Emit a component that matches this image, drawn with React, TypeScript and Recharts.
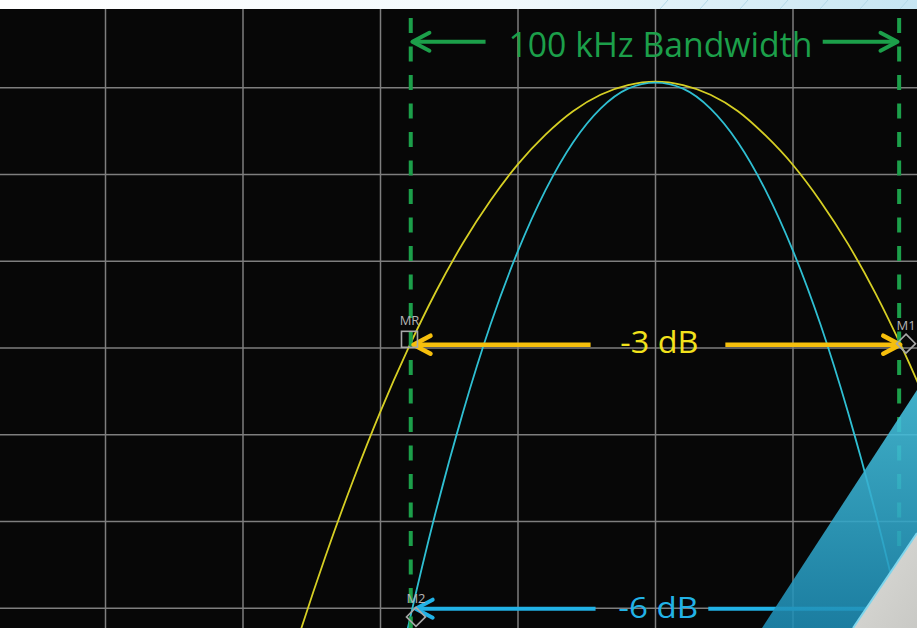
import React from 'react';
import { LineChart, Line, XAxis, YAxis, CartesianGrid, ReferenceLine, ReferenceDot } from 'recharts';

// offset from centre frequency, kHz
const freqs = [-70, -65, -60, -55, -50, -45, -40, -35, -30, -25, -20, -15, -10, -5, 0, 5, 10, 15, 20, 25, 30, 35, 40, 45, 50, 55, 60, 65, 70];
// wide filter trace (yellow), dB
const wideTrace = [-8.38, -7.35, -6.4, -5.53, -4.73, -4.01, -3.36, -2.79, -2.3, -1.88, -1.54, -1.27, -1.08, -0.97, -0.93, -0.97, -1.08, -1.27, -1.55, -1.89, -2.31, -2.8, -3.37, -4.02, -4.74, -5.54, -6.41, -7.36, -8.39];
// narrow filter trace (cyan), dB
const narrowTrace = [-16.1, -14.0, -12.1, -10.3, -8.69, -7.22, -5.9, -4.74, -3.73, -2.88, -2.18, -1.63, -1.24, -1.01, -0.94, -1.01, -1.24, -1.63, -2.18, -2.88, -3.73, -4.74, -5.9, -7.22, -8.69, -10.3, -12.1, -14.0, -16.1];

const xTicks = [-125, -100, -75, -50, -25, 0, 25, 50, 75];
const yTicks = [-8, -7, -6, -5, -4, -3, -2, -1, 0];

const bandEdges = [-44.5, 44.3];

// markers: name, freq, level, box or diamond
const markers = [
  { name: 'MR', f: -44.73, db: -3.9, kind: 'box' },
  { name: 'M1', f: 45.55, db: -3.95, kind: 'diamond' },
  { name: 'M2', f: -43.55, db: -7.1, kind: 'diamond' },
];

const data = freqs.map((f, i) => ({ f, wide: wideTrace[i], narrow: narrowTrace[i] }));

const GREEN = '#1c9f4a';
const AMBER = '#f6bf0c';
const SKY = '#22b2e6';
const FONT = '"Open Sans", "Noto Sans", sans-serif';

// line with an open arrow head at the first point
const arrow = (color: string, w: number) => (p: any) => {
  const { x1, y1, x2 } = p;
  const dir = x1 < x2 ? -1 : 1;
  const L = 17;
  const H = 9;
  return (
    <g>
      <line x1={x1 - dir * 2} y1={y1} x2={x2} y2={y1} stroke={color} strokeWidth={w} />
      <polyline
        points={`${x1 - dir * L},${y1 - H} ${x1},${y1} ${x1 - dir * L},${y1 + H}`}
        fill="none"
        stroke={color}
        strokeWidth={w}
        strokeLinecap="round"
        strokeLinejoin="round"
      />
    </g>
  );
};

const plain = (color: string, w: number) => (p: any) => (
  <line x1={p.x1} y1={p.y1} x2={p.x2} y2={p.y2} stroke={color} strokeWidth={w} />
);

const label = (text: string, color: string, size: number, len: number) => (p: any) => (
  <text
    x={p.cx}
    y={p.cy}
    textAnchor="middle"
    fill={color}
    fontSize={size}
    fontFamily={FONT}
    textLength={len}
    lengthAdjust="spacingAndGlyphs"
  >
    {text}
  </text>
);

const markerShape = (name: string, kind: string) => (p: any) => {
  const { cx, cy } = p;
  return (
    <g>
      {kind === 'box' ? (
        <rect x={cx - 8} y={cy - 8} width={16} height={16} fill="none" stroke="#a8a8a8" strokeWidth={1.6} />
      ) : (
        <polygon
          points={`${cx},${cy - 9.5} ${cx + 9.5},${cy} ${cx},${cy + 9.5} ${cx - 9.5},${cy}`}
          fill="none"
          stroke="#a8a8a8"
          strokeWidth={1.6}
        />
      )}
      <text x={cx} y={cy - 14} textAnchor="middle" fill="#b4b4b4" fontSize={13} fontFamily={FONT}>
        {name}
      </text>
    </g>
  );
};

export default function App() {
  return (
    <div style={{ position: 'fixed', left: 0, top: 0, width: 917, height: 628, overflow: 'hidden', background: '#070707' }}>
      <div style={{ position: 'absolute', left: -32.5, top: 1.3 }}>
        <LineChart width={1100} height={694} data={data} margin={{ top: 0, right: 0, bottom: 0, left: 0 }}>
          <CartesianGrid stroke="#7e7e7e" strokeWidth={1.5} />
          <XAxis type="number" dataKey="f" domain={[-125, 75]} ticks={xTicks} hide allowDataOverflow />
          <YAxis type="number" domain={[-8, 0]} ticks={yTicks} hide allowDataOverflow />

          <Line dataKey="wide" type="monotone" stroke="#d6cf24" strokeWidth={1.8} dot={false} isAnimationActive={false} />
          <Line dataKey="narrow" type="monotone" stroke="#2fbfd2" strokeWidth={1.8} dot={false} isAnimationActive={false} />

          {bandEdges.map((x) => (
            <ReferenceLine key={x} x={x} stroke={GREEN} strokeWidth={4} strokeDasharray="15 13.5" strokeDashoffset={22} />
          ))}

          {/* bandwidth annotation */}
          <ReferenceLine segment={[{ x: -44.2, y: -0.47 }, { x: -30.9, y: -0.47 }]} shape={arrow(GREEN, 4)} />
          <ReferenceLine segment={[{ x: 44.0, y: -0.47 }, { x: 30.4, y: -0.47 }]} shape={arrow(GREEN, 4)} />
          <ReferenceDot x={0.9} y={-0.642} shape={label('100 kHz Bandwidth', GREEN, 35, 304)} />

          {/* -3 dB annotation */}
          <ReferenceLine segment={[{ x: -44.0, y: -3.962 }, { x: -11.8, y: -3.962 }]} shape={arrow(AMBER, 4.5)} />
          <ReferenceLine segment={[{ x: 44.5, y: -3.962 }, { x: 12.7, y: -3.962 }]} shape={arrow(AMBER, 4.5)} />
          <ReferenceDot x={0.7} y={-4.054} shape={label('-3 dB', '#f2e21c', 31, 78)} />

          {/* -6 dB annotation */}
          <ReferenceLine segment={[{ x: -43.6, y: -7.005 }, { x: -10.9, y: -7.005 }]} shape={arrow(SKY, 4)} />
          <ReferenceLine segment={[{ x: 9.6, y: -7.005 }, { x: 44.0, y: -7.005 }]} shape={plain(SKY, 4)} />
          <ReferenceDot x={0.5} y={-7.11} shape={label('-6 dB', SKY, 30, 80)} />

          {markers.map((m) => (
            <ReferenceDot key={m.name} x={m.f} y={m.db} shape={markerShape(m.name, m.kind)} />
          ))}
        </LineChart>
      </div>

      <svg width={917} height={628} style={{ position: 'absolute', left: 0, top: 0, pointerEvents: 'none' }}>
        <defs>
          <linearGradient id="topband" x1="0" y1="0" x2="1" y2="0">
            <stop offset="0" stopColor="#ffffff" />
            <stop offset="0.55" stopColor="#f2f9fc" />
            <stop offset="1" stopColor="#c6e5f2" />
          </linearGradient>
          <linearGradient id="ribbon" x1="0" y1="0" x2="0" y2="1">
            <stop offset="0" stopColor="#48c6e2" />
            <stop offset="1" stopColor="#1e8db5" />
          </linearGradient>
          <linearGradient id="corner" x1="0" y1="0" x2="1" y2="1">
            <stop offset="0" stopColor="#dcdcd8" />
            <stop offset="1" stopColor="#c9c9c5" />
          </linearGradient>
        </defs>
        <rect x={0} y={0} width={917} height={9} fill="url(#topband)" />
        {[660, 700, 740, 780, 820, 860, 900].map((x) => (
          <line key={x} x1={x} y1={9} x2={x + 8} y2={0} stroke="#b2d8e8" strokeWidth={1} />
        ))}
        <polygon points="762,628 917,390 917,533 853,628" fill="url(#ribbon)" opacity={0.88} />
        <polygon points="853,628 917,533 917,628" fill="url(#corner)" />
        <line x1={853} y1={628} x2={917} y2={533} stroke="#7ed5ec" strokeWidth={2} />
      </svg>
    </div>
  );
}
